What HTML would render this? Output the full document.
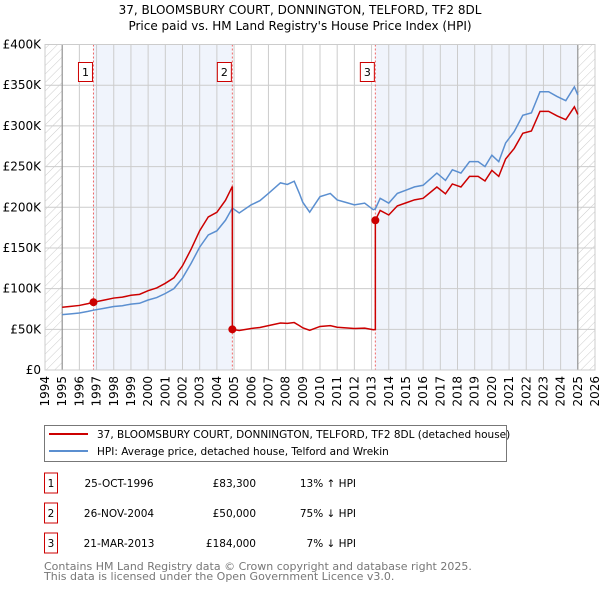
<!DOCTYPE html>
<html><head><meta charset="utf-8"><style>
body{margin:0;background:#fff;width:600px;height:590px;overflow:hidden;font-family:"DejaVu Sans","Liberation Sans",sans-serif;}
svg text{font-family:"DejaVu Sans","Liberation Sans",sans-serif;}
</style></head><body>
<svg id="c" width="600" height="590" xmlns="http://www.w3.org/2000/svg">
<defs><pattern id="hatch" width="6" height="6" patternUnits="userSpaceOnUse" patternTransform="rotate(45)"><line x1="0" y1="0" x2="0" y2="6" stroke="#ccc" stroke-width="1"/></pattern></defs>
<text x="300" y="14" text-anchor="middle" font-size="12">37, BLOOMSBURY COURT, DONNINGTON, TELFORD, TF2 8DL</text>
<text x="300" y="30" text-anchor="middle" font-size="12">Price paid vs. HM Land Registry's House Price Index (HPI)</text>
<g id="plot"></g>
<g>
<rect x="44.5" y="425.5" width="462" height="36" fill="#fff" stroke="#777"/>
<line x1="49" y1="434" x2="88" y2="434" stroke="#c00" stroke-width="2"/>
<text x="97" y="438" font-size="10.5">37, BLOOMSBURY COURT, DONNINGTON, TELFORD, TF2 8DL (detached house)</text>
<line x1="49" y1="451" x2="88" y2="451" stroke="#5b8fd0" stroke-width="2"/>
<text x="97" y="455" font-size="10.5">HPI: Average price, detached house, Telford and Wrekin</text>
</g>
<g id="table" font-size="10.5"></g>
<text x="44" y="570" font-size="11" fill="#777">Contains HM Land Registry data © Crown copyright and database right 2025.</text>
<text x="44" y="580" font-size="11" fill="#777">This data is licensed under the Open Government Licence v3.0.</text>
</svg>
<script>
const hpiDates=[1995.0,1995.5,1996.0,1996.5,1996.82,1997.5,1998.0,1998.5,1999.0,1999.5,2000.0,2000.5,2001.0,2001.5,2002.0,2002.5,2003.0,2003.5,2004.0,2004.5,2004.9,2005.3,2006.0,2006.5,2007.0,2007.7,2008.1,2008.5,2008.8,2009.0,2009.4,2010.0,2010.6,2011.0,2011.5,2012.0,2012.6,2013.1,2013.22,2013.5,2014.0,2014.5,2015.0,2015.5,2016.0,2016.8,2017.3,2017.7,2018.2,2018.7,2019.2,2019.6,2020.0,2020.4,2020.8,2021.3,2021.8,2022.3,2022.8,2023.3,2023.8,2024.3,2024.8,2025.0];
const hpiValues=[68,69,70,72,73.5,76,78,79,81,82,86,89,94,100,113,131,151,166,171,184,199,193,203,208,217,230,228,232,217,206,194,213,217,209,206,203,205,197,198,211,205,217,221,225,227,242,233,246,242,256,256,250,264,256,279,293,313,316,342,342,336,331,348,338];
const saleDates=[1996.82,2004.9,2013.22];
const salePrices=[83.3,50,184];
const saleLabels=["1","2","3"];
const saleDateText=["25-OCT-1996","26-NOV-2004","21-MAR-2013"];
const salePriceText=["£83,300","£50,000","£184,000"];
const saleDiffText=["13% ↑ HPI","75% ↓ HPI","7% ↓ HPI"];
const yTicks=[0,50,100,150,200,250,300,350,400];
const yTickLabels=["£0","£50K","£100K","£150K","£200K","£250K","£300K","£350K","£400K"];
const xYears=[1994,1995,1996,1997,1998,1999,2000,2001,2002,2003,2004,2005,2006,2007,2008,2009,2010,2011,2012,2013,2014,2015,2016,2017,2018,2019,2020,2021,2022,2023,2024,2025,2026];
const dataEnd=2025.0;

const L=45,R=595,T=44.5,B=370;
const X=y=>L+(y-1994)*(R-L)/32;
const Y=v=>B-v*(B-T)/400;
const NS="http://www.w3.org/2000/svg";
const g=document.getElementById('plot');
function mk(tag,attrs,parent){const e=document.createElementNS(NS,tag);for(const k in attrs)e.setAttribute(k,attrs[k]);(parent||g).appendChild(e);return e;}
function hpiAt(d){for(let i=0;i<hpiDates.length-1;i++){if(d<=hpiDates[i+1]){const t=(d-hpiDates[i])/(hpiDates[i+1]-hpiDates[i]);return hpiValues[i]+t*(hpiValues[i+1]-hpiValues[i]);}}return hpiValues[hpiValues.length-1];}

let e=mk('rect',{x:X(saleDates[0]),y:T,width:X(saleDates[1])-X(saleDates[0]),height:B-T,fill:'#f0f4fc'});


e=mk('rect',{x:X(saleDates[2]),y:T,width:X(dataEnd)-X(saleDates[2]),height:B-T,fill:'#f0f4fc'});


e=mk('rect',{x:L,y:T,width:X(1995)-L,height:B-T,fill:'url(#hatch)'});


e=mk('rect',{x:X(dataEnd),y:T,width:R-X(dataEnd),height:B-T,fill:'url(#hatch)'});


yTicks.forEach((v,i)=>{
 e=mk('line',{x1:L,x2:R,y1:Y(v),y2:Y(v),stroke:'#ccc','stroke-width':1});
 
 
 e=mk('text',{x:L-4,y:Y(v)+4,'text-anchor':'end','font-size':12});
 e.textContent=yTickLabels[i];
 
 
});
xYears.forEach(yr=>{
 e=mk('line',{x1:X(yr),x2:X(yr),y1:T,y2:B,stroke:'#ccc','stroke-width':1});
 
 
 e=mk('text',{x:0,y:0,'text-anchor':'end','font-size':12,transform:`translate(${X(yr)+4},${B+6}) rotate(-90)`});
 e.textContent=yr;
 
 
});
e=mk('line',{x1:X(1995),x2:X(1995),y1:T,y2:B,stroke:'#888'});


e=mk('line',{x1:X(dataEnd),x2:X(dataEnd),y1:T,y2:B,stroke:'#888'});


saleDates.forEach((d,i)=>{
 e=mk('line',{x1:X(d),x2:X(d),y1:T,y2:B,stroke:'#e66','stroke-dasharray':'2,2'});
 
 
});
e=mk('polyline',{points:hpiDates.map((d,i)=>X(d)+','+Y(hpiValues[i])).join(' '),fill:'none',stroke:'#5b8fd0','stroke-width':1.5});


let pts=[];
for(let s=0;s<saleDates.length;s++){
 const f=salePrices[s]/hpiAt(saleDates[s]);
 const start=s===0?1995:saleDates[s], end=s<saleDates.length-1?saleDates[s+1]:dataEnd;
 if(s>0) pts.push(X(start)+','+Y(salePrices[s]));
 hpiDates.forEach((d,i)=>{if(d>=start&&d<=end)pts.push(X(d)+','+Y(hpiValues[i]*f));});
 if(s<saleDates.length-1) pts.push(X(end)+','+Y(hpiAt(end)*f));
}
e=mk('polyline',{points:pts.join(' '),fill:'none',stroke:'#c00','stroke-width':1.5});


saleDates.forEach((d,i)=>{
 e=mk('circle',{cx:X(d),cy:Y(salePrices[i]),r:4,fill:'#c00'});
 
 
 e=mk('rect',{x:X(d)-15,y:62.5,width:14,height:19,fill:'#fff',stroke:'#c00'});
 
 
 e=mk('text',{x:X(d)-8,y:76,'text-anchor':'middle','font-size':11});
 e.textContent=saleLabels[i];
 
 
});
mk('rect',{x:L,y:T,width:R-L,height:B-T,fill:'none',stroke:'#ccc'});
const tb=document.getElementById('table');
saleLabels.forEach((lab,i)=>{
 const cy=483+i*30;
 e=mk('rect',{x:44.5,y:cy-10,width:13,height:20,fill:'#fff',stroke:'#c00'},tb);
 
 
 e=mk('text',{x:51,y:cy+4,'text-anchor':'middle'},tb);e.textContent=lab;
 
 
 e=mk('text',{x:119,y:cy+4,'text-anchor':'middle'},tb);e.textContent=saleDateText[i];
 
 
 e=mk('text',{x:256,y:cy+4,'text-anchor':'end'},tb);e.textContent=salePriceText[i];
 
 
 e=mk('text',{x:356,y:cy+4,'text-anchor':'end'},tb);e.textContent=saleDiffText[i];
 
 
});
</script>
</body></html>
